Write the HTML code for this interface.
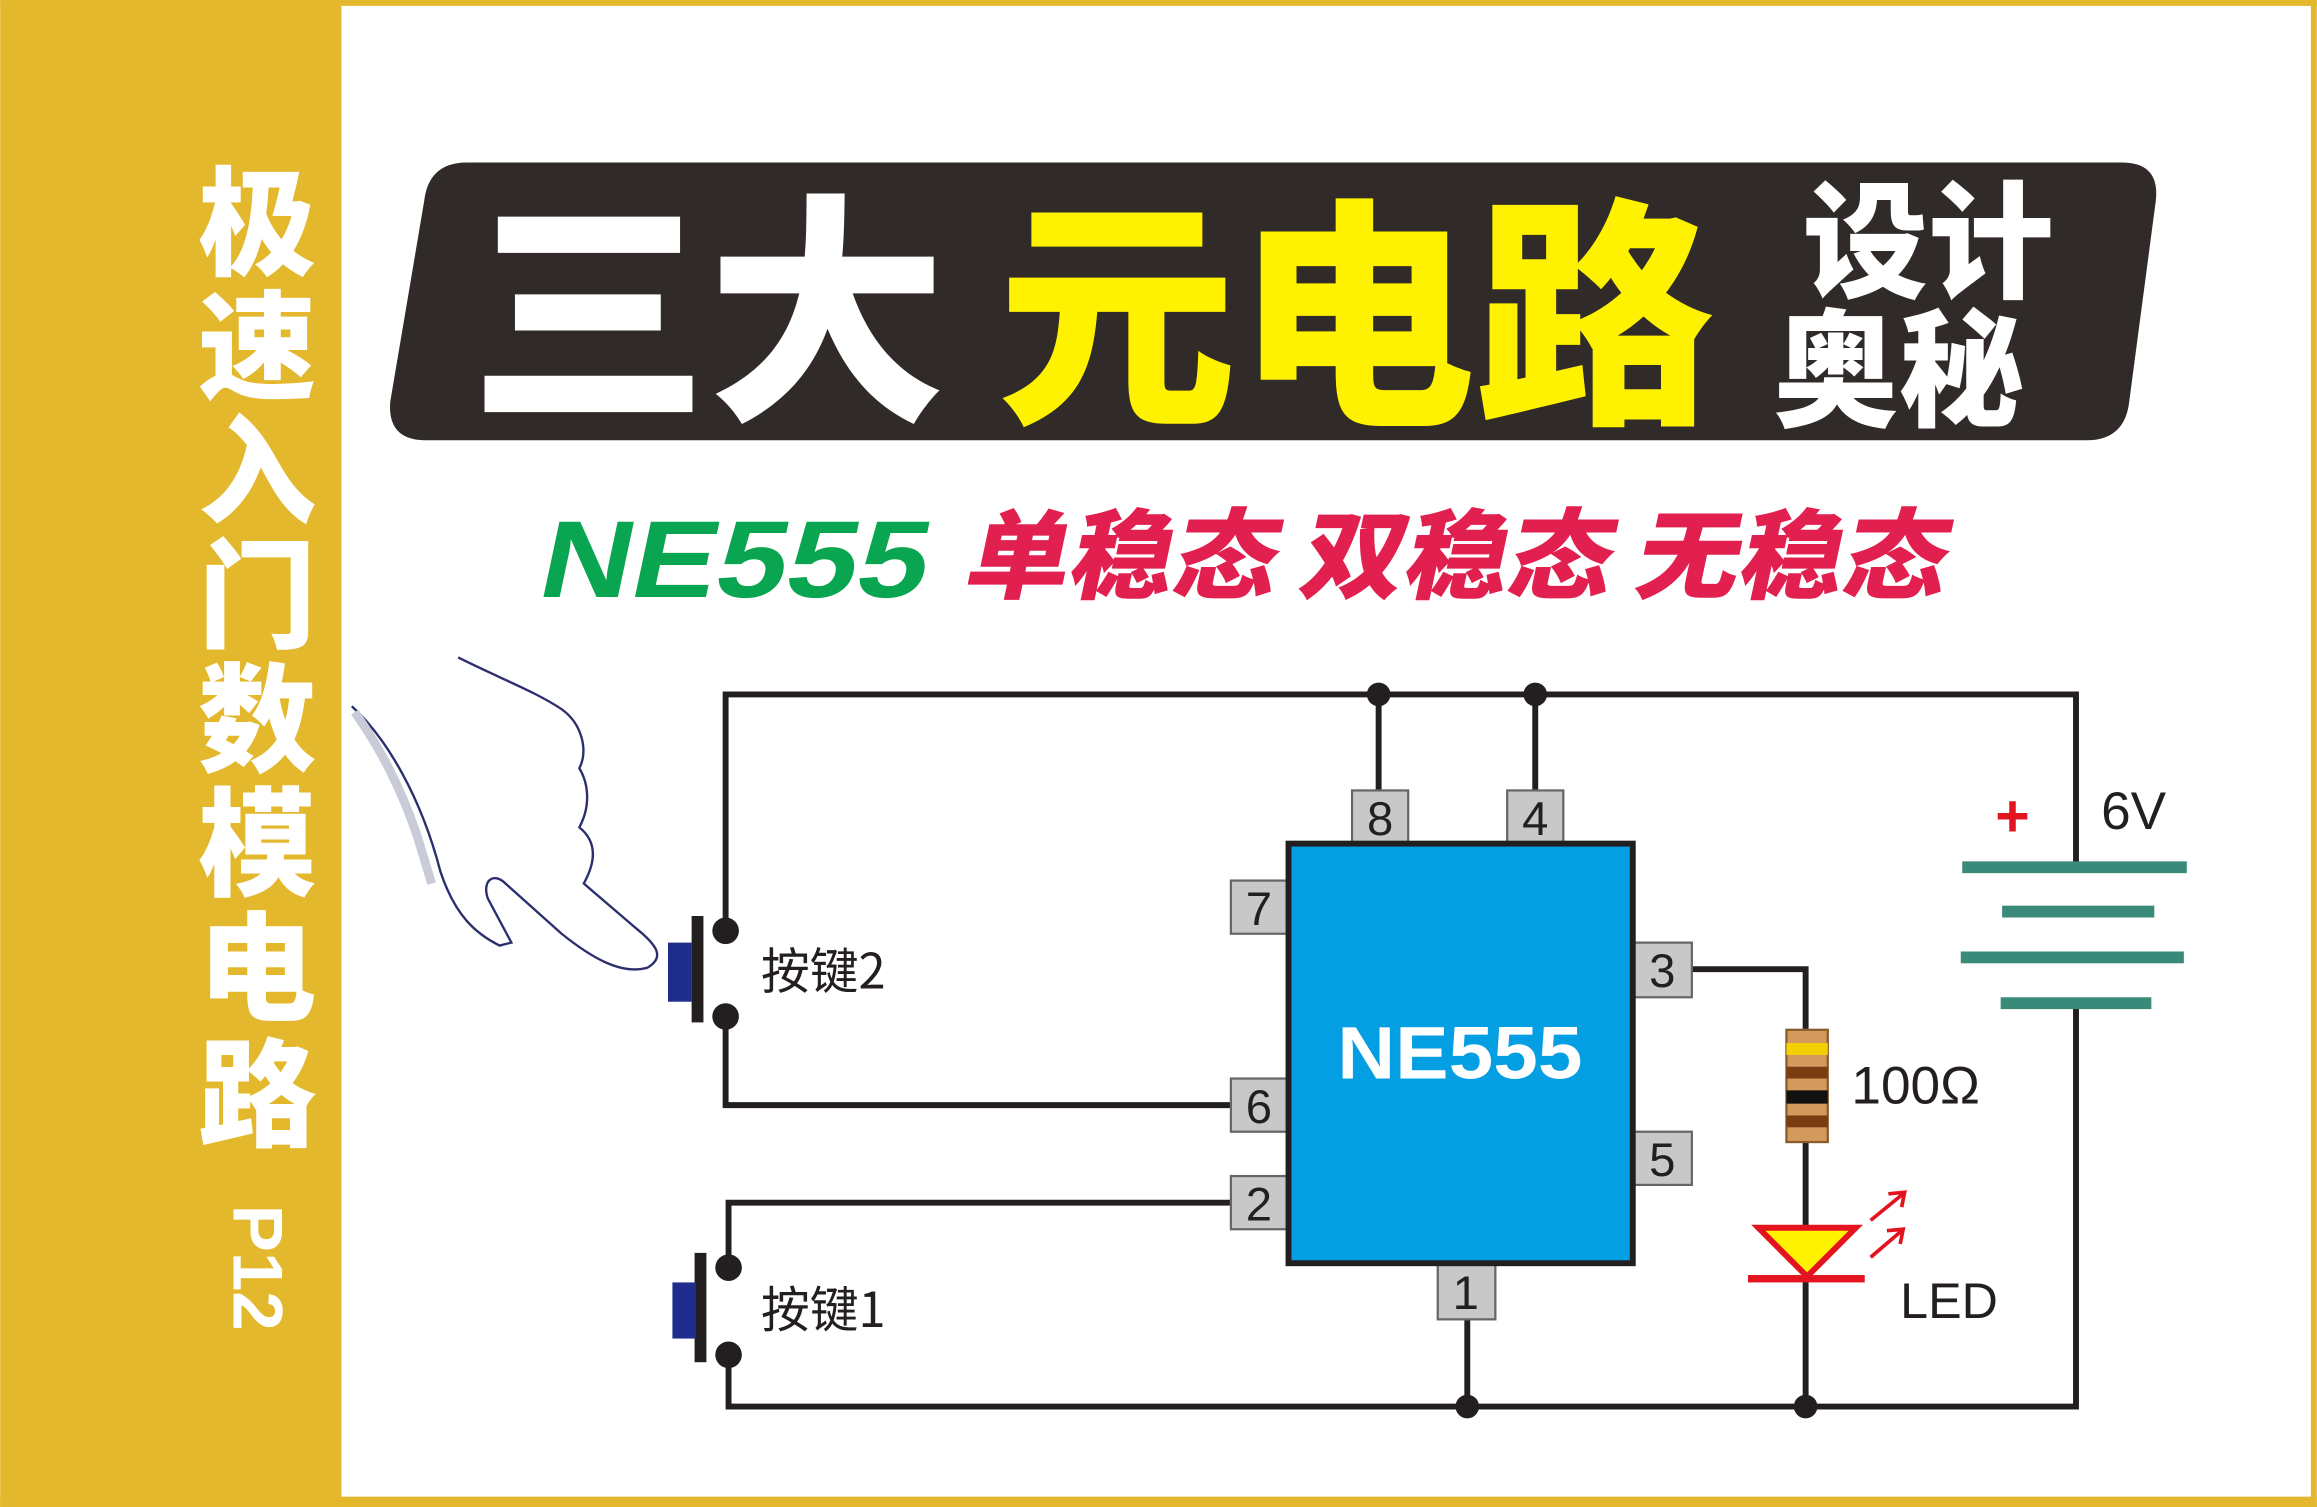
<!DOCTYPE html>
<html><head><meta charset="utf-8"><style>
html,body{margin:0;padding:0;background:#fff}
svg{display:block}
</style></head><body>
<svg width="2317" height="1507" viewBox="0 0 1568 1020" xmlns="http://www.w3.org/2000/svg" font-family="'Liberation Sans','Noto Sans CJK SC',sans-serif">
<rect x="0" y="0" width="1568" height="1020" fill="#fff"/>
<rect x="0" y="0" width="1568" height="4" fill="#e3b82c"/>
<rect x="0" y="1013" width="1568" height="7" fill="#e3b82c"/>
<rect x="1564" y="0" width="4" height="1020" fill="#e3b82c"/>
<rect x="0" y="0" width="231" height="1020" fill="#e3b82c"/>
<g fill="#fff" font-family="'Noto Sans CJK SC',sans-serif" font-weight="900" font-size="80" text-anchor="middle">
<text x="174" y="180">极</text>
<text x="174" y="264">速</text>
<text x="174" y="348">入</text>
<text x="174" y="432">门</text>
<text x="174" y="516">数</text>
<text x="174" y="600">模</text>
<text x="174" y="684">电</text>
<text x="174" y="770">路</text>
<text x="0" y="0" font-family="'Liberation Sans',sans-serif" font-weight="700" font-size="48" transform="translate(158,858) rotate(90)">P12</text>
</g>
<path d="M316,110 L1436,110 Q1462,110 1459,136 L1441,272 Q1438,298 1412,298 L288,298 Q262,298 264,272 L287,136 Q290,110 316,110 Z" fill="#302b28"/>
<g font-family="'Noto Sans CJK SC',sans-serif" font-weight="900">
<text x="318" y="272" font-size="165" fill="#fff" textLength="322" lengthAdjust="spacingAndGlyphs">三大</text>
<text x="675" y="274" font-size="165" fill="#fff200" textLength="485" lengthAdjust="spacingAndGlyphs">元电路</text>
<text x="1220" y="195" font-size="86" fill="#fff" textLength="170" lengthAdjust="spacingAndGlyphs">设计</text>
<text x="1200" y="282" font-size="86" fill="#fff" textLength="170" lengthAdjust="spacingAndGlyphs">奥秘</text>
</g>
<g transform="translate(0,404) skewX(-12) translate(0,-404)" font-weight="900">
<text x="362" y="404" font-size="74" fill="#0aa550" font-family="'Liberation Sans',sans-serif" textLength="262" lengthAdjust="spacingAndGlyphs">NE555</text>
<text x="650" y="400" font-size="66" fill="#e2204f" font-family="'Noto Sans CJK SC',sans-serif" textLength="664" lengthAdjust="spacingAndGlyphs">单稳态 双稳态 无稳态</text>
</g>
<g stroke="#231f20" stroke-width="4" fill="none">
<path d="M491,630 L491,470 L1405,470 L1405,585"/>
<path d="M1405,680 L1405,952 L493,952 L493,917"/>
<path d="M491,688 L491,748 L833,748"/>
<path d="M493,858 L493,814 L833,814"/>
<path d="M933,470 L933,535 M1039,470 L1039,535"/>
<path d="M993,893 L993,952"/>
<path d="M1145,656 L1222,656 L1222,697 M1222,773 L1222,952"/>
</g>
<g fill="#231f20">
<circle cx="933" cy="470" r="8"/><circle cx="1039" cy="470" r="8"/>
<circle cx="993" cy="952" r="8"/><circle cx="1222" cy="952" r="8"/>
<circle cx="491" cy="630" r="9"/><circle cx="491" cy="688" r="9"/>
<circle cx="493" cy="858" r="9"/><circle cx="493" cy="917" r="9"/>
<rect x="468" y="620" width="8" height="72"/>
<rect x="470" y="848" width="8" height="74"/>
</g>
<rect x="452" y="638" width="16" height="40" fill="#1f2d8c"/>
<rect x="455" y="868" width="16" height="38" fill="#1f2d8c"/>
<g font-family="'Noto Sans CJK SC',sans-serif" font-size="33" fill="#231f20">
<text x="515" y="669">按键2</text>
<text x="515" y="898">按键1</text>
</g>
<g fill="#c8c8c8" stroke="#666" stroke-width="1.5">
<rect x="915" y="535" width="38" height="36"/>
<rect x="1020" y="535" width="38" height="36"/>
<rect x="833" y="596" width="39" height="36"/>
<rect x="833" y="730" width="39" height="36"/>
<rect x="833" y="796" width="39" height="36"/>
<rect x="1106" y="638" width="39" height="37"/>
<rect x="1106" y="766" width="39" height="36"/>
<rect x="973" y="856" width="39" height="37"/>
</g>
<g font-family="'Liberation Sans',sans-serif" font-size="32" fill="#231f20" text-anchor="middle">
<text x="934" y="565">8</text><text x="1039" y="565">4</text>
<text x="852" y="626">7</text><text x="852" y="760">6</text><text x="852" y="826">2</text>
<text x="1125" y="668">3</text><text x="1125" y="796">5</text><text x="992" y="886">1</text>
</g>
<rect x="872" y="571" width="233" height="284" fill="#049ee3" stroke="#231f20" stroke-width="4"/>
<text x="988" y="730" font-family="'Liberation Sans',sans-serif" font-weight="700" font-size="50" fill="#fff" text-anchor="middle" textLength="166" lengthAdjust="spacingAndGlyphs">NE555</text>
<rect x="1209" y="697" width="28" height="76" fill="#d39a5e" stroke="#8a5a2a" stroke-width="1.5"/>
<rect x="1209" y="706" width="28" height="8" fill="#f5d000"/>
<rect x="1209" y="722" width="28" height="8" fill="#7a3d12"/>
<rect x="1209" y="738" width="28" height="9" fill="#111"/>
<rect x="1209" y="755" width="28" height="8" fill="#7a3d12"/>
<text x="1253" y="747" font-family="'Liberation Sans',sans-serif" font-size="36" fill="#231f20">100Ω</text>
<path d="M1190,831 L1256,831 L1223,864 Z" fill="#fff200" stroke="#e3141f" stroke-width="4" stroke-linejoin="miter"/>
<rect x="1183" y="863" width="79" height="5" fill="#e3141f"/>
<g stroke="#e3141f" stroke-width="2.5" fill="none">
<path d="M1266,826 L1288,808 M1278,808 L1289,807 L1287,817"/>
<path d="M1266,851 L1287,833 M1277,833 L1288,832 L1286,842"/>
</g>
<text x="1286" y="892" font-family="'Liberation Sans',sans-serif" font-size="34" fill="#231f20">LED</text>
<g fill="#3a8a7a">
<rect x="1328" y="583" width="152" height="8"/>
<rect x="1355" y="613" width="103" height="8"/>
<rect x="1327" y="644" width="151" height="8"/>
<rect x="1354" y="675" width="102" height="8"/>
</g>
<text x="1362" y="566" font-family="'Liberation Sans',sans-serif" font-weight="700" font-size="40" fill="#e3141f" text-anchor="middle">+</text>
<text x="1422" y="561" font-family="'Liberation Sans',sans-serif" font-size="36" fill="#231f20">6V</text>
<g fill="none" stroke="#2b2f6e" stroke-width="1.6">
<path d="M238,478 C262,500 285,540 298,590 C308,620 322,632 338,640 L346,638 L330,608 C326,596 334,590 342,598 L380,632 C400,648 420,660 438,655 C450,648 445,640 430,628 L395,598 C405,580 402,568 392,560 C400,545 398,530 392,520 C398,508 394,490 380,480 C362,468 340,460 310,445"/>
</g>
<path d="M240,482 C256,505 270,530 282,565 L292,598" stroke="#c9cbd8" stroke-width="6" fill="none"/>
</svg>
</body></html>
